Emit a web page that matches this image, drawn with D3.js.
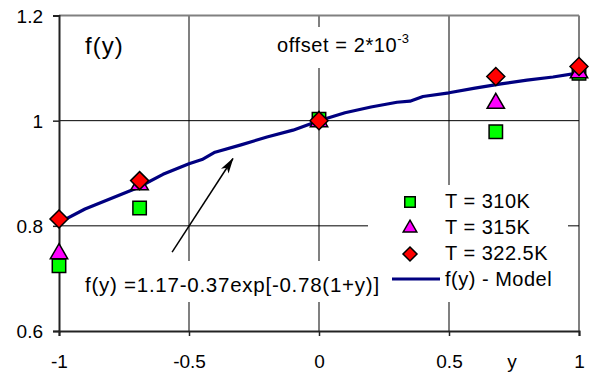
<!DOCTYPE html>
<html>
<head>
<meta charset="utf-8">
<script src="https://cdn.jsdelivr.net/npm/d3@7"></script>
<style>
  body { margin: 0; background: #fff; }
  svg { display: block; font-family: "Liberation Sans", Arial, sans-serif; }
</style>
</head>
<body>
<svg width="589" height="373"></svg>
<script>
// measured points, three temperatures
const yPos = [-1, -0.69, 0, 0.68, 1];
const t310 = [0.724, 0.834, 1.003, 0.979, 1.09];
const t315 = [0.749, 0.880, 1.0, 1.035, 1.093];
const t3225 = [0.813, 0.886, 1.0, 1.084, 1.103];

// model curve
const modelY = [-1, -0.9, -0.8, -0.7, -0.6, -0.5, -0.45, -0.4, -0.3, -0.2, -0.1, 0,
  0.1, 0.2, 0.3, 0.35, 0.4, 0.5, 0.6, 0.7, 0.8, 0.9, 1];
const modelF = [0.806, 0.832, 0.852, 0.872, 0.898, 0.918, 0.926, 0.940, 0.954, 0.969, 0.982, 1.0,
  1.015, 1.026, 1.035, 1.037, 1.046, 1.053, 1.062, 1.070, 1.077, 1.083, 1.091];

const xTicks = [-1, -0.5, 0, 0.5, 1];
const yTicks = [0.6, 0.8, 1, 1.2];

const svg = d3.select('svg');
const x = d3.scaleLinear().domain([-1, 1]).range([59, 579]);
const y = d3.scaleLinear().domain([0.6, 1.2]).range([331, 15.5]);

// vertical gridlines (grey) and horizontal (black, thin)
svg.append('g')
  .selectAll('line')
  .data(xTicks.slice(1))
  .join('line')
    .attr('x1', d => x(d)).attr('x2', d => x(d))
    .attr('y1', y(1.2)).attr('y2', y(0.6))
    .attr('stroke', '#808080').attr('stroke-width', 2);

svg.append('g')
  .selectAll('line')
  .data([0.8, 1])
  .join('line')
    .attr('x1', x(-1)).attr('x2', x(1))
    .attr('y1', d => y(d)).attr('y2', d => y(d))
    .attr('stroke', '#000').attr('stroke-width', 1);

svg.append('line')
  .attr('x1', x(-1)).attr('x2', x(1))
  .attr('y1', y(1.2)).attr('y2', y(1.2))
  .attr('stroke', '#808080').attr('stroke-width', 2);

// axes
const fmt = d => String(d);
const xAxis = svg.append('g')
    .attr('transform', `translate(0,${y(0.6)})`)
    .call(d3.axisBottom(x).tickValues(xTicks).tickSize(5).tickFormat(fmt));
const yAxis = svg.append('g')
    .attr('transform', `translate(${x(-1)},0)`)
    .call(d3.axisLeft(y).tickValues(yTicks).tickSize(6).tickFormat(fmt));

[xAxis, yAxis].forEach(g => {
  g.select('.domain').attr('stroke', '#222').attr('stroke-width', 2);
  g.selectAll('.tick line').attr('stroke', '#222').attr('stroke-width', 1.5);
  g.selectAll('text').attr('fill', '#000').attr('font-size', 19)
    .attr('font-family', '"Liberation Sans", Arial, sans-serif');
});
xAxis.selectAll('text').attr('dy', null).attr('y', 37);
yAxis.selectAll('text').attr('x', -16).attr('dy', '0.36em');

svg.append('text')
  .attr('x', 512).attr('y', 368)
  .attr('text-anchor', 'middle').attr('font-size', 19)
  .text('y');

// label boxes cover the grid
svg.append('rect').attr('x', 272).attr('y', 27).attr('width', 150).attr('height', 41).attr('fill', '#fff');
svg.append('rect').attr('x', 80).attr('y', 261).attr('width', 305).attr('height', 41).attr('fill', '#fff');
svg.append('rect').attr('x', 368).attr('y', 185).attr('width', 200).attr('height', 117).attr('fill', '#fff');

// model line
const line = d3.line().x(d => x(d[0])).y(d => y(d[1]));
svg.append('path')
  .datum(d3.zip(modelY, modelF))
  .attr('d', line)
  .attr('fill', 'none')
  .attr('stroke', '#000080')
  .attr('stroke-width', 3.2)
  .attr('stroke-linejoin', 'round');

const sq = d3.symbol().type(d3.symbolSquare);
const tri = d3.symbol().type(d3.symbolTriangle);
const diamond = s => `M0,${-s}L${s},0L0,${s}L${-s},0Z`;

function markers(vals, pathStr, fill, dy) {
  svg.append('g')
    .selectAll('path')
    .data(d3.zip(yPos, vals))
    .join('path')
      .attr('transform', d => `translate(${x(d[0])},${y(d[1]) + (dy || 0)})`)
      .attr('d', pathStr)
      .attr('fill', fill)
      .attr('stroke', '#000')
      .attr('stroke-width', 1.5);
}
markers(t310, sq.size(180)(), '#00ff00');
markers(t315, tri.size(130)(), '#ff00ff', 1);
markers(t3225, diamond(9), '#ff0000');

// labels
svg.append('text').attr('x', 85).attr('y', 54).attr('font-size', 24)
  .attr('letter-spacing', 1).text('f(y)');

const off = svg.append('text').attr('x', 277).attr('y', 52).attr('font-size', 20)
  .attr('letter-spacing', 0.6);
off.append('tspan').text('offset = 2*10');
off.append('tspan').attr('dy', -9).attr('font-size', 13).attr('letter-spacing', 0).text('-3');

svg.append('text').attr('x', 85).attr('y', 292).attr('font-size', 20.5)
  .attr('letter-spacing', 0.75)
  .text('f(y) =1.17-0.37exp[-0.78(1+y)]');

// arrow
svg.append('defs').append('marker')
    .attr('id', 'head')
    .attr('viewBox', '0 -6 16 12')
    .attr('refX', 15).attr('refY', 0)
    .attr('markerWidth', 16).attr('markerHeight', 12)
    .attr('markerUnits', 'userSpaceOnUse')
    .attr('orient', 'auto')
  .append('path')
    .attr('d', 'M0,-4.5L16,0L0,4.5L4,0Z')
    .attr('fill', '#000');

svg.append('line')
  .attr('x1', x(-0.565)).attr('y1', y(0.75))
  .attr('x2', x(-0.331)).attr('y2', y(0.928))
  .attr('stroke', '#000').attr('stroke-width', 1.5)
  .attr('marker-end', 'url(#head)');

// legend
const legendRows = [
  { label: 'T = 310K', d: sq.size(110)(), fill: '#00ff00' },
  { label: 'T = 315K', d: tri.size(80)(), fill: '#ff00ff' },
  { label: 'T = 322.5K', d: diamond(7), fill: '#ff0000' }
];
const lg = svg.append('g');
lg.selectAll('path.m')
  .data(legendRows)
  .join('path')
    .attr('class', 'm')
    .attr('transform', (d, i) => `translate(410,${202 + i * 26})`)
    .attr('d', d => d.d)
    .attr('fill', d => d.fill)
    .attr('stroke', '#000').attr('stroke-width', 1.5);
lg.append('line')
  .attr('x1', 392).attr('x2', 440).attr('y1', 279).attr('y2', 279)
  .attr('stroke', '#000080').attr('stroke-width', 3.2);
lg.selectAll('text')
  .data(legendRows.map(d => d.label).concat(['f(y) - Model']))
  .join('text')
    .attr('x', 445)
    .attr('y', (d, i) => 208 + i * 26)
    .attr('font-size', 20)
    .attr('letter-spacing', 0.5)
    .text(d => d);
</script>
</body>
</html>
